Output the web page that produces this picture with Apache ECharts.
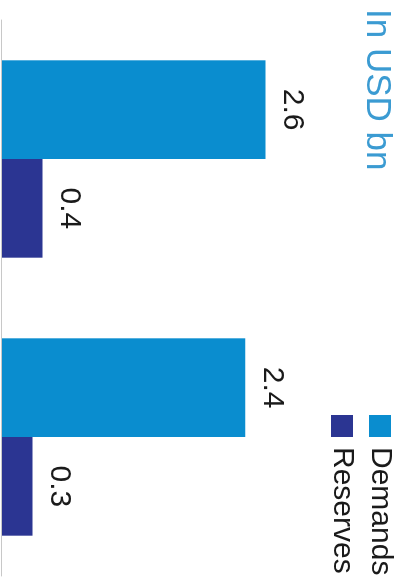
<!DOCTYPE html>
<html>
<head>
<meta charset="utf-8">
<script src="https://cdn.jsdelivr.net/npm/echarts@6/dist/echarts.min.js"></script>
<style>
html,body{margin:0;padding:0;background:#fff;overflow:hidden;width:403px;height:582px;}
#chart{position:absolute;left:0;top:0;width:582px;height:403px;transform-origin:0 0;transform:translateX(403px) rotate(90deg);}
</style>
</head>
<body>
<div id="chart"></div>
<script>
const categories = ['Group 1', 'Group 2'];
const seriesNames = ['Demands', 'Reserves'];
const demands = [2.6, 2.4];
const reserves = [0.4, 0.3];
const titleText = 'In USD bn';

const colors = ['#0a8dcf', '#2b3592'];
const chart = echarts.init(document.getElementById('chart'), null, {renderer: 'canvas'});
const font = '"Liberation Sans", Arial, sans-serif';
const labelOpt = {
  show: true,
  position: 'top',
  distance: 12,
  color: '#1a1a1a',
  fontSize: 30,
  fontFamily: font
};
chart.setOption({
  animation: false,
  title: {
    text: titleText,
    left: 4,
    top: 4,
    textStyle: {color: '#3b9bd2', fontSize: 35, fontWeight: 'normal', fontFamily: font}
  },
  legend: {
    orient: 'vertical',
    left: 410,
    top: 1,
    itemWidth: 22,
    itemHeight: 22,
    itemGap: 4,
    icon: 'rect',
    data: seriesNames,
    textStyle: {fontSize: 30, lineHeight: 34, color: '#1a1a1a', fontFamily: font, padding: [0, 0, 0, 5]}
  },
  grid: {left: 20, right: 6, top: 16, bottom: 2, containLabel: false},
  xAxis: {
    type: 'category',
    data: categories,
    axisLine: {show: true, lineStyle: {color: '#c8c8c8', width: 1}},
    axisTick: {show: false},
    axisLabel: {show: false}
  },
  yAxis: {
    type: 'value',
    min: 0,
    max: 3.8,
    show: false,
    splitLine: {show: false}
  },
  series: [
    {name: seriesNames[0], type: 'bar', data: demands, itemStyle: {color: colors[0]}, barGap: '0%', barCategoryGap: '29%', label: labelOpt},
    {name: seriesNames[1], type: 'bar', data: reserves, itemStyle: {color: colors[1]}, barGap: '0%', barCategoryGap: '29%', label: labelOpt}
  ]
});
</script>
</body>
</html>
